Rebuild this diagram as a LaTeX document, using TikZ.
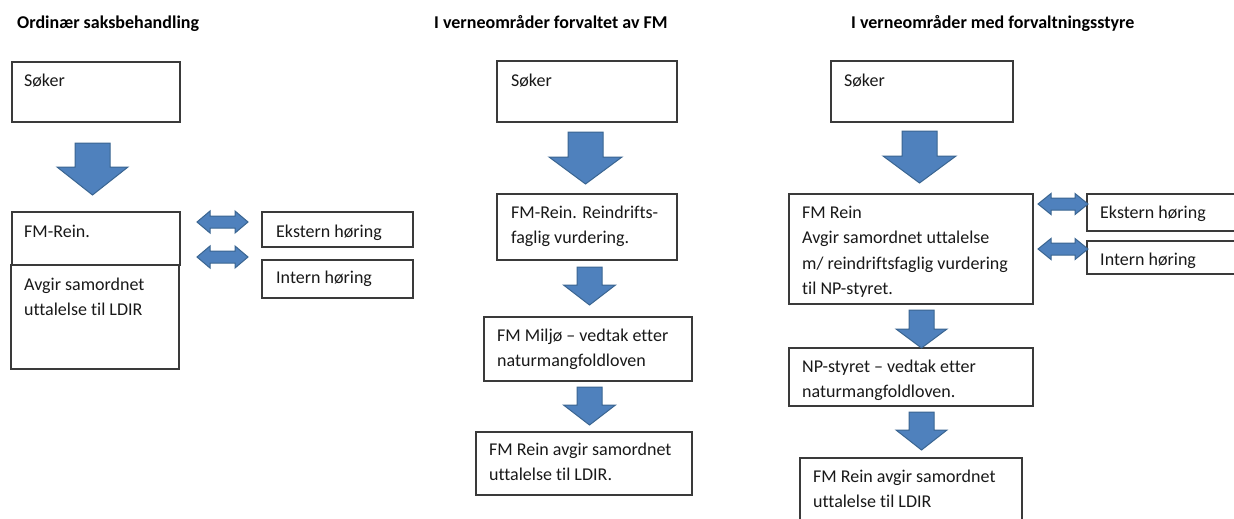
\documentclass[tikz,border=0pt]{standalone}
\usepackage{fontspec}
\setmainfont{Carlito}[Ligatures=CommonOff]
\usetikzlibrary{fit}
\definecolor{arrfill}{HTML}{4F81BD}
\definecolor{arrline}{HTML}{3A6591}
\definecolor{boxline}{HTML}{3A3A3A}
\tikzset{
  box/.style={draw=boxline, line width=1.3pt, inner sep=0pt, fill=none},
  txt/.style={inner sep=0pt, anchor=base west, align=left, font=\fontsize{18}{25.5}\selectfont, text=black!90},
  head/.style={inner sep=0pt, anchor=base west, font=\fontsize{18}{22}\selectfont\bfseries, text=black},
  blk/.style={fill=arrfill, draw=arrline, line width=1pt, line join=miter}
}
% down block arrow: cx, top, shoulder, tip, half shaft, half head
\newcommand\blkdown[6]{%
  \draw[blk] ({#1-#5},#2) -- ({#1+#5},#2) -- ({#1+#5},#3) -- ({#1+#6},#3) -- (#1,#4)
    -- ({#1-#6},#3) -- ({#1-#5},#3) -- cycle;}
% left-right block arrow: x1, x2, cy, half shaft, half head, head length
\newcommand\blklr[6]{%
  \draw[blk] (#1,#3) -- ({#1+#6},{#3-#5}) -- ({#1+#6},{#3-#4}) -- ({#2-#6},{#3-#4})
    -- ({#2-#6},{#3-#5}) -- (#2,#3) -- ({#2-#6},{#3+#5}) -- ({#2-#6},{#3+#4})
    -- ({#1+#6},{#3+#4}) -- ({#1+#6},{#3+#5}) -- cycle;}
\begin{document}
\begin{tikzpicture}[x=1pt,y=-1pt]
\useasboundingbox (0,0) rectangle (1234,519);
\clip (0,0) rectangle (1234,519);
\fill[white] (0,0) rectangle (1234,519);

% headers
\node[head] (h1) at (17,29) {Ordinær saksbehandling};
\node[head] (h2) at (434,29) {I verneområder forvaltet av FM};
\node[head] (h3) at (851,29) {I verneområder med forvaltningsstyre};

% ---------- left column ----------
\node[box, fit={(12,62) (180,122)}] (L1) {};
\node[box, fit={(12,212) (180,265)}] (L2) {};
\node[box, fit={(11,265) (179,369)}] (L3) {};
\node[box, fit={(262,212) (413,247)}] (Lext) {};
\node[box, fit={(262,260) (413,298)}] (Lint) {};
\node[txt] (tL1) at (24,86) {Søker};
\node[txt] (tL2) at (24,237) {FM-Rein.};
\node[txt] (tL3) at (24,315.5) {Avgir samordnet\\uttalelse til LDIR};
\node[txt] (tLext) at (276,237) {Ekstern høring};
\node[txt] (tLint) at (276,283) {Intern høring};
\blkdown{92.5}{143}{167}{195}{17.5}{35.5}
\blklr{197}{248}{222}{6}{11}{13}
\blklr{197}{248}{257}{6}{11}{13}

% ---------- middle column ----------
\node[box, fit={(497,61) (677,122)}] (M1) {};
\node[box, fit={(497,194) (677,260)}] (M2) {};
\node[box, fit={(484,317) (692,381)}] (M3) {};
\node[box, fit={(476,432) (692,495)}] (M4) {};
\node[txt] (tM1) at (511,86) {Søker};
\node[txt] (tM2) at (511,243.5) {FM-Rein. Reindrifts-\\faglig vurdering.};
\node[txt] (tM3) at (497,366.5) {FM Miljø – vedtak etter\\naturmangfoldloven};
\node[txt] (tM4) at (489,480.5) {FM Rein avgir samordnet\\uttalelse til LDIR.};
\blkdown{585.5}{132}{157}{184}{17.5}{36.5}
\blkdown{589.5}{267}{285}{305}{12.5}{26}
\blkdown{589.5}{387}{405}{425}{12.5}{26}

% ---------- right column ----------
\node[box, fit={(831,61) (1013,122)}] (R1) {};
\node[box, fit={(789,194) (1033,304)}] (R2) {};
\node[box, fit={(1087,194) (1250,231)}] (Rext) {};
\node[box, fit={(1087,241) (1250,274)}] (Rint) {};
\node[box, fit={(789,348) (1033,406)}] (R3) {};
\node[box, fit={(800,458) (1022,530)}] (R4) {};
\node[txt] (tR1) at (844,86) {Søker};
\node[txt] (tR2) at (802,294.5) {FM Rein\\Avgir samordnet uttalelse\\m/ reindriftsfaglig vurdering\\til NP-styret.};
\node[txt] (tRext) at (1100,218) {Ekstern høring};
\node[txt] (tRint) at (1100,265) {Intern høring};
\node[txt] (tR3) at (802,397.5) {NP-styret – vedtak etter\\naturmangfoldloven.};
\node[txt] (tR4) at (813,507.5) {FM Rein avgir samordnet\\uttalelse til LDIR};
\blkdown{919.5}{131}{156}{183}{17.5}{36.5}
\blkdown{921.5}{310}{329}{348}{12.5}{25.5}
\blkdown{921.5}{412}{430}{450}{12.5}{25.5}
\blklr{1038}{1088}{204}{6}{10.5}{13}
\blklr{1038}{1088}{249}{6}{10.5}{13}
\end{tikzpicture}
\end{document}
